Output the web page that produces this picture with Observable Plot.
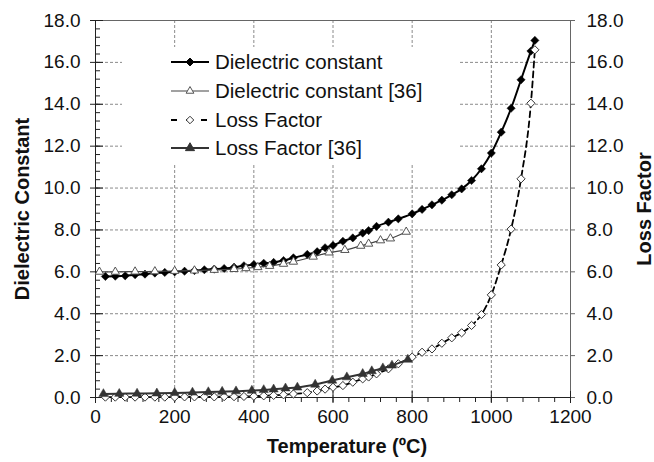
<!DOCTYPE html>
<html>
<head>
<meta charset="utf-8">
<script src="https://cdn.jsdelivr.net/npm/d3@7"></script>
<script src="https://cdn.jsdelivr.net/npm/@observablehq/plot@0.6"></script>
<style>
  html, body { margin: 0; padding: 0; background: #fff; }
  #wrap { position: relative; width: 654px; height: 462px; font-family: "Liberation Sans", Arial, sans-serif; overflow: hidden; }
  #legend { position: absolute; left: 122px; top: 47px; width: 336px; height: 116px; background: #fff; }
  .row { position: absolute; left: 48px; height: 24px; display: flex; align-items: center; font-size: 20.5px; color: #111; white-space: nowrap; }
  .row svg { margin-right: 5px; }
  g[aria-label$="axis label"] text { font-weight: bold; }
</style>
</head>
<body>
<div id="wrap"></div>
<script>
// ---- Data ----
const temperature = [25, 50, 75, 100, 125, 150, 175, 200, 225, 250, 275, 300, 325, 350, 375, 400, 425, 450, 475, 500,
  535, 560, 580, 600, 625, 650, 675, 690, 710, 740, 765, 800, 825, 850, 875, 900, 925, 950, 975, 1000,
  1025, 1050, 1075, 1100, 1110];
const dielectricConstant = [5.78, 5.79, 5.81, 5.86, 5.89, 5.94, 5.97, 6.00, 6.03, 6.06, 6.10, 6.13, 6.16, 6.22, 6.29, 6.35, 6.41, 6.45, 6.54, 6.67,
  6.83, 6.96, 7.15, 7.26, 7.46, 7.62, 7.85, 7.97, 8.17, 8.37, 8.53, 8.77, 8.98, 9.20, 9.42, 9.68, 9.96, 10.36, 10.92, 11.67,
  12.67, 13.81, 15.17, 16.54, 17.05];
const lossFactor = [0.02, 0.02, 0.02, 0.02, 0.02, 0.02, 0.02, 0.02, 0.03, 0.03, 0.03, 0.03, 0.04, 0.04, 0.05, 0.06, 0.08, 0.10, 0.13, 0.17,
  0.23, 0.31, 0.40, 0.49, 0.57, 0.73, 0.89, 0.98, 1.13, 1.37, 1.61, 1.93, 2.16, 2.32, 2.59, 2.85, 3.09, 3.44, 3.96, 4.90,
  6.33, 8.04, 10.44, 14.05, 16.60];

const temperatureDC36 = [10, 50, 100, 150, 200, 250, 300, 350, 380, 410, 440, 475, 500, 550, 590, 630, 670, 690, 720, 745, 785];
const dielectricConstant36 = [6.00, 6.00, 6.01, 6.02, 6.04, 6.06, 6.09, 6.13, 6.17, 6.22, 6.28, 6.38, 6.48, 6.72, 6.92, 7.04, 7.24, 7.34, 7.50, 7.59, 7.91];

const temperatureLF36 = [20, 60, 105, 155, 200, 245, 285, 320, 355, 395, 425, 450, 480, 510, 555, 598, 635, 675, 698, 726, 749, 789];
const lossFactor36 = [0.17, 0.18, 0.19, 0.20, 0.22, 0.24, 0.26, 0.28, 0.30, 0.33, 0.36, 0.39, 0.44, 0.48, 0.62, 0.81, 0.97, 1.13, 1.26, 1.40, 1.53, 1.81];

const seriesNames = ["Dielectric constant", "Dielectric constant [36]", "Loss Factor", "Loss Factor [36]"];
const xTicks = [0, 200, 400, 600, 800, 1000, 1200];
const yTicks = [0, 2, 4, 6, 8, 10, 12, 14, 16, 18];
const xTitle = "Temperature (ºC)";
const yTitleLeft = "Dielectric Constant";
const yTitleRight = "Loss Factor";

// ---- Tables ----
const dc = temperature.map((t, i) => ({t, v: dielectricConstant[i]}));
const lf = temperature.map((t, i) => ({t, v: lossFactor[i]}));
const dc36 = temperatureDC36.map((t, i) => ({t, v: dielectricConstant36[i]}));
const lf36 = temperatureLF36.map((t, i) => ({t, v: lossFactor36[i]}));
const xMinor = d3.range(0, 1201, 40);
const yMinor = d3.range(0, 45.5).map(i => +(i * 0.4).toFixed(1)).filter(v => v <= 18);
const fmt = d3.format(".1f");

const chart = Plot.plot({
  width: 654,
  height: 462,
  marginLeft: 95,
  marginRight: 84,
  marginTop: 20,
  marginBottom: 65,
  style: {fontFamily: "'Liberation Sans', Arial, sans-serif", fontSize: "19px", color: "#111", background: "#fff", overflow: "visible"},
  x: {domain: [0, 1200]},
  y: {domain: [0, 18]},
  marks: [
    Plot.gridX(xTicks, {stroke: "#8a8a8a", strokeOpacity: 1, strokeDasharray: "3,2"}),
    Plot.gridY(yTicks, {stroke: "#8a8a8a", strokeOpacity: 1, strokeDasharray: "3,2"}),
    Plot.frame({stroke: "#666"}),
    Plot.ruleX([0], {stroke: "#222"}),
    Plot.ruleY([0], {stroke: "#222"}),
    // x axis
    Plot.axisX(xTicks, {anchor: "bottom", tickSize: 6, tickPadding: 6, tickFormat: d => String(d), label: null, stroke: "#222", fontSize: 19}),
    Plot.axisX(xTicks, {anchor: "bottom", tickSize: -6, tickFormat: () => "", label: null, stroke: "#222"}),
    Plot.axisX(xMinor, {anchor: "bottom", tickSize: 5, tickFormat: () => "", label: null, stroke: "#222"}),
    Plot.text([xTitle], {frameAnchor: "bottom", dx: 14, dy: 55, text: d => d, fontSize: 20, fontWeight: "bold", fill: "#111"}),
    // left y axis
    Plot.axisY(yTicks, {anchor: "left", tickSize: 5, tickPadding: 10, tickFormat: fmt, label: null, stroke: "#222", fontSize: 19}),
    Plot.axisY(yTicks, {anchor: "left", tickSize: -8, tickFormat: () => "", label: null, stroke: "#222"}),
    Plot.axisY(yMinor, {anchor: "left", tickSize: -5, tickFormat: () => "", label: null, stroke: "#222"}),
    Plot.axisY([], {anchor: "left", tickSize: 0, label: yTitleLeft, labelAnchor: "center", labelArrow: "none", labelOffset: 81, fontSize: 20, fontWeight: "bold"}),
    // right y axis
    Plot.axisY(yTicks, {anchor: "right", tickSize: 4, tickPadding: 12, tickFormat: fmt, label: null, stroke: "#666", fontSize: 19}),
    Plot.axisY([], {anchor: "right", tickSize: 0, label: yTitleRight, labelAnchor: "center", labelArrow: "none", labelOffset: 80, fontSize: 20, fontWeight: "bold"}),
    // Dielectric constant
    Plot.line(dc, {x: "t", y: "v", stroke: "#000", strokeWidth: 2, curve: "monotone-x"}),
    Plot.dot(dc, {x: "t", y: "v", symbol: d3.symbolDiamond2, r: 3.7, fill: "#000", stroke: "#000", strokeWidth: 0.5}),
    // Dielectric constant [36]
    Plot.line(dc36, {x: "t", y: "v", stroke: "#444", strokeWidth: 1.2, curve: "monotone-x"}),
    Plot.dot(dc36, {x: "t", y: "v", symbol: "triangle", r: 3.1, fill: "#fff", stroke: "#555", strokeWidth: 1}),
    // Loss factor
    Plot.line(lf, {x: "t", y: "v", stroke: "#000", strokeWidth: 1.8, strokeDasharray: "6,4", curve: "monotone-x"}),
    Plot.dot(lf, {x: "t", y: "v", symbol: d3.symbolDiamond2, r: 3.7, fill: "#fff", stroke: "#333", strokeWidth: 1}),
    // Loss factor [36]
    Plot.line(lf36, {x: "t", y: "v", stroke: "#333", strokeWidth: 2, curve: "monotone-x"}),
    Plot.dot(lf36, {x: "t", y: "v", symbol: "triangle", r: 3.4, fill: "#333", stroke: "#333", strokeWidth: 0.5})
  ]
});

const wrap = document.getElementById("wrap");
wrap.appendChild(chart);

// ---- Legend (HTML overlay, like the Excel legend box) ----
const legend = document.createElement("div");
legend.id = "legend";
const swatchStyles = [
  {stroke: "#000", width: 2, dash: null, symbol: d3.symbolDiamond2, size: 40, fill: "#000", sStroke: "#000"},
  {stroke: "#444", width: 1.2, dash: null, symbol: d3.symbolTriangle, size: 26, fill: "#fff", sStroke: "#555"},
  {stroke: "#000", width: 1.8, dash: "6,9", symbol: d3.symbolDiamond2, size: 36, fill: "#fff", sStroke: "#333"},
  {stroke: "#333", width: 2, dash: null, symbol: d3.symbolTriangle, size: 36, fill: "#333", sStroke: "#333"}
];
const rowTops = [3, 32, 61, 89];
seriesNames.forEach((name, i) => {
  const s = swatchStyles[i];
  const row = document.createElement("div");
  row.className = "row";
  row.style.top = rowTops[i] + "px";
  const sw = d3.create("svg").attr("width", 40).attr("height", 16);
  sw.append("line").attr("x1", 1).attr("x2", 39).attr("y1", 8).attr("y2", 8)
    .attr("stroke", s.stroke).attr("stroke-width", s.width)
    .attr("stroke-dasharray", s.dash);
  sw.append("path").attr("transform", "translate(20,8)")
    .attr("d", d3.symbol(s.symbol, s.size)())
    .attr("fill", s.fill).attr("stroke", s.sStroke).attr("stroke-width", 1);
  row.appendChild(sw.node());
  const label = document.createElement("span");
  label.textContent = name;
  row.appendChild(label);
  legend.appendChild(row);
});
wrap.appendChild(legend);
</script>
</body>
</html>
